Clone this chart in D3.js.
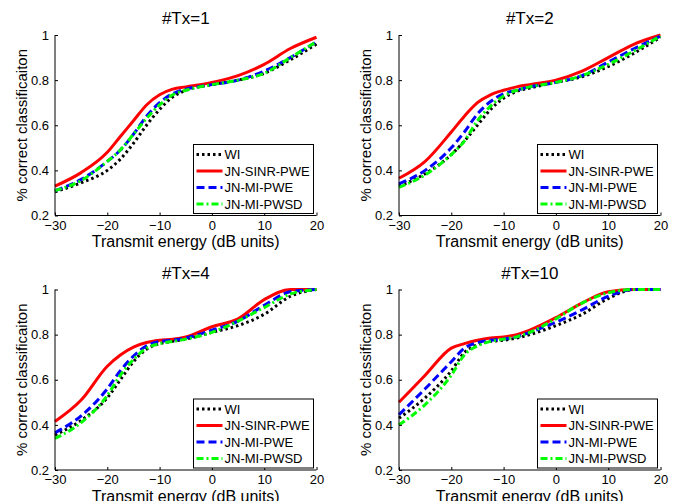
<!DOCTYPE html>
<html>
<head>
<meta charset="utf-8">
<script src="https://cdn.jsdelivr.net/npm/d3@7"></script>
<style>
  body { margin: 0; background: #fff; }
  svg text { font-family: Arial, "Liberation Sans", sans-serif; fill: #000; }
  .axis path, .axis line { stroke: #000; stroke-width: 1; }
  .axis text { font-size: 13px; }
</style>
</head>
<body>
<div id="chart"></div>
<script>
"use strict";

// x values (transmit energy, dB)
var energy = [-30, -25, -20, -17.5, -15, -12.5, -10, -7.5, -5, 0, 5, 10, 15, 20];

var panelTitles = ["#Tx=1", "#Tx=2", "#Tx=4", "#Tx=10"];
var seriesNames = ["WI", "JN-SINR-PWE", "JN-MI-PWE", "JN-MI-PWSD"];

// one array per panel per series
var tx1WI   = [0.305, 0.345, 0.40, 0.45, 0.52, 0.60, 0.67, 0.725, 0.755, 0.78, 0.80, 0.83, 0.89, 0.96];
var tx1SINR = [0.33, 0.39, 0.48, 0.55, 0.62, 0.69, 0.735, 0.76, 0.77, 0.79, 0.82, 0.87, 0.94, 0.99];
var tx1MI   = [0.31, 0.36, 0.44, 0.49, 0.56, 0.64, 0.70, 0.74, 0.76, 0.78, 0.80, 0.84, 0.90, 0.97];
var tx1PWSD = [0.31, 0.355, 0.44, 0.49, 0.56, 0.63, 0.69, 0.735, 0.755, 0.78, 0.80, 0.83, 0.90, 0.97];

var tx2WI   = [0.33, 0.385, 0.47, 0.53, 0.60, 0.67, 0.72, 0.75, 0.765, 0.79, 0.815, 0.86, 0.92, 0.99];
var tx2SINR = [0.365, 0.44, 0.57, 0.64, 0.70, 0.735, 0.755, 0.77, 0.78, 0.80, 0.84, 0.90, 0.96, 1.0];
var tx2MI   = [0.34, 0.40, 0.50, 0.57, 0.65, 0.705, 0.74, 0.755, 0.77, 0.79, 0.82, 0.88, 0.94, 0.995];
var tx2PWSD = [0.325, 0.38, 0.47, 0.53, 0.62, 0.685, 0.73, 0.755, 0.77, 0.79, 0.82, 0.87, 0.93, 0.995];

var tx4WI   = [0.355, 0.42, 0.52, 0.60, 0.68, 0.735, 0.76, 0.77, 0.78, 0.81, 0.84, 0.89, 0.97, 1.0];
var tx4SINR = [0.415, 0.51, 0.66, 0.71, 0.745, 0.765, 0.775, 0.78, 0.79, 0.835, 0.87, 0.955, 1.0, 1.0];
var tx4MI   = [0.365, 0.44, 0.56, 0.64, 0.705, 0.75, 0.77, 0.775, 0.785, 0.82, 0.86, 0.93, 0.99, 1.0];
var tx4PWSD = [0.34, 0.41, 0.53, 0.62, 0.69, 0.74, 0.76, 0.77, 0.78, 0.81, 0.86, 0.92, 0.98, 1.0];

var tx10WI   = [0.43, 0.52, 0.64, 0.72, 0.755, 0.77, 0.775, 0.785, 0.80, 0.84, 0.89, 0.96, 1.0, 1.0];
var tx10SINR = [0.50, 0.62, 0.74, 0.76, 0.775, 0.785, 0.79, 0.80, 0.82, 0.875, 0.94, 0.99, 1.0, 1.0];
var tx10MI   = [0.445, 0.56, 0.68, 0.74, 0.765, 0.775, 0.78, 0.79, 0.81, 0.855, 0.91, 0.97, 1.0, 1.0];
var tx10PWSD = [0.40, 0.49, 0.62, 0.71, 0.75, 0.77, 0.78, 0.79, 0.81, 0.87, 0.94, 0.985, 1.0, 1.0];

var xTicks = [-30, -20, -10, 0, 10, 20];
var yTicks = [0.2, 0.4, 0.6, 0.8, 1];

var panelData = [
  [tx1WI, tx1SINR, tx1MI, tx1PWSD],
  [tx2WI, tx2SINR, tx2MI, tx2PWSD],
  [tx4WI, tx4SINR, tx4MI, tx4PWSD],
  [tx10WI, tx10SINR, tx10MI, tx10PWSD]
];

// line styles for WI, SINR, MI, PWSD
var colors = ["#000000", "#ff0000", "#0000ff", "#00ff00"];
var dashes = ["2.5,3", null, "8,4", "7,3,2,3"];

function drawPanel(svg, ox, oy, title, series) {
  var left = 55, right = 316.5, top = 35, bottom = 215.5;

  var g = svg.append("g").attr("transform", "translate(" + ox + "," + oy + ")");

  var xScale = d3.scaleLinear().domain([-30, 20]).range([left, right]);
  var yScale = d3.scaleLinear().domain([0.2, 1]).range([bottom, top]);

  //curves first, axes on top
  var line = d3.line()
    .x(function (d) { return xScale(d[0]); })
    .y(function (d) { return yScale(d[1]); })
    .curve(d3.curveMonotoneX);

  series.forEach(function (vals, i) {
    var pts = energy.map(function (e, k) { return [e, vals[k]]; });
    g.append("path")
      .datum(pts)
      .attr("fill", "none")
      .attr("stroke", colors[i])
      .attr("stroke-width", 3)
      .attr("stroke-dasharray", dashes[i])
      .attr("d", line);
  });

  // axes, MATLAB style ticks pointing inward
  var xAxis = d3.axisBottom(xScale).tickValues(xTicks).tickSize(-3).tickPadding(5)
    .tickFormat(d3.format("d"));
  var yAxis = d3.axisLeft(yScale).tickValues(yTicks).tickSize(-3).tickPadding(6)
    .tickFormat(function (d) { return d === 1 ? "1" : d3.format(".1f")(d); });

  g.append("g")
    .attr("class", "axis")
    .attr("transform", "translate(0," + bottom + ")")
    .call(xAxis)
    .call(function (a) { a.select(".domain").attr("d", "M" + left + ",0H" + right); });

  g.append("g")
    .attr("class", "axis")
    .attr("transform", "translate(" + left + ",0)")
    .call(yAxis)
    .call(function (a) { a.select(".domain").attr("d", "M0," + top + "V" + bottom); });

  g.append("text")
    .attr("x", (left + right) / 2)
    .attr("y", 24)
    .attr("text-anchor", "middle")
    .style("font-size", "17px")
    .text(title);

  g.append("text")
    .attr("x", (left + right) / 2)
    .attr("y", 247)
    .attr("text-anchor", "middle")
    .style("font-size", "16px")
    .text("Transmit energy (dB units)");

  g.append("text")
    .attr("transform", "translate(27," + ((top + bottom) / 2) + ") rotate(-90)")
    .attr("text-anchor", "middle")
    .style("font-size", "15px")
    .text("% correct classificaiton");

  // legend
  var lx = 193.5, ly = 144.5, lw = 120, lh = 69;
  var leg = g.append("g");
  leg.append("rect")
    .attr("x", lx).attr("y", ly).attr("width", lw).attr("height", lh)
    .attr("fill", "#fff").attr("stroke", "#000").attr("stroke-width", 1);

  seriesNames.forEach(function (name, i) {
    var yy = ly + 10 + i * 16.5;
    leg.append("line")
      .attr("x1", lx + 3).attr("x2", lx + 29)
      .attr("y1", yy).attr("y2", yy)
      .attr("stroke", colors[i])
      .attr("stroke-width", 3)
      .attr("stroke-dasharray", dashes[i]);
    leg.append("text")
      .attr("x", lx + 31)
      .attr("y", yy + 4.5)
      .style("font-size", "13px")
      .text(name);
  });
}

function init() {
  var w = 689, h = 501;
  var svg = d3.select("#chart").append("svg")
    .attr("width", w)
    .attr("height", h);

  var offsets = [[0, 0], [344, 0], [0, 254.5], [344, 254.5]];
  panelTitles.forEach(function (t, i) {
    drawPanel(svg, offsets[i][0], offsets[i][1], t, panelData[i]);
  });
}

window.onload = init;
</script>
</body>
</html>
